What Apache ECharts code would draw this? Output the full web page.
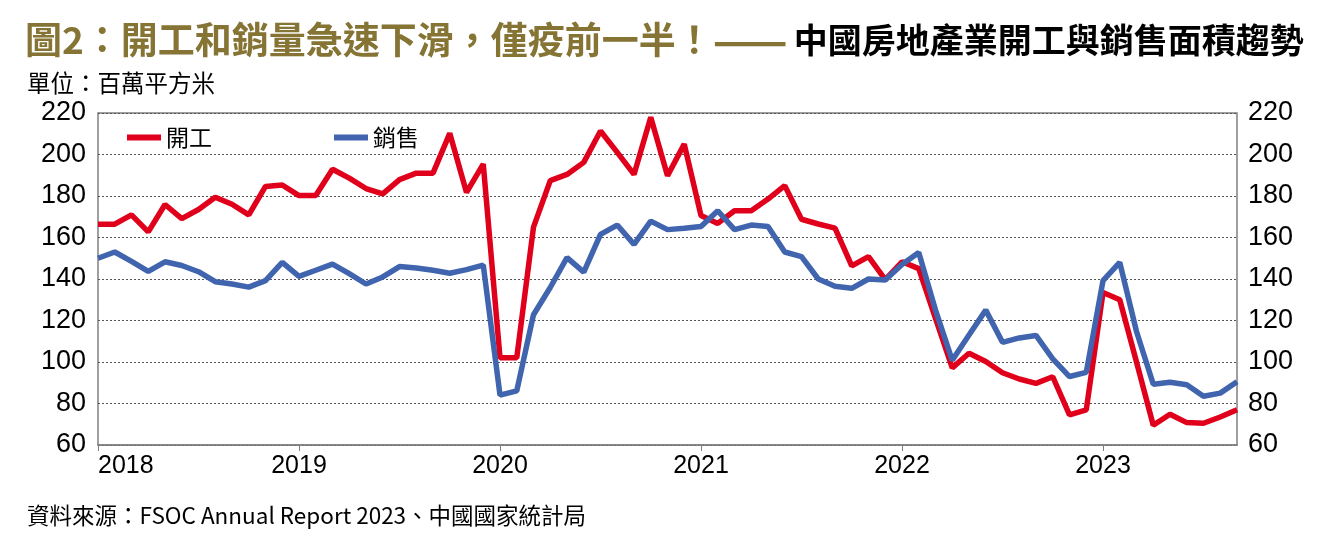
<!DOCTYPE html>
<html>
<head>
<meta charset="utf-8">
<script src="https://cdn.jsdelivr.net/npm/echarts@6/dist/echarts.min.js"></script>
<style>
  html, body { margin: 0; padding: 0; background: #fff; }
  #chart { width: 1321px; height: 533px; }
</style>
</head>
<body>
<div id="chart"></div>
<script>
// 月份：2018-01 ~ 2023-09
var months = [];
for (var y = 2018; y <= 2023; y++) {
  for (var m = 1; m <= 12; m++) {
    if (y === 2023 && m > 9) break;
    months.push(y + '-' + (m < 10 ? '0' + m : m));
  }
}

// 開工面積（百萬平方米）
var starts = [
  166.4, 166.4, 170.9, 162.7, 175.9, 169.1, 173.5, 179.4, 176.0, 170.9, 184.6, 185.3,
  180.2, 180.2, 192.9, 188.6, 183.6, 181.0, 187.9, 191.0, 191.0, 210.2, 181.7, 195.4,
  102.0, 102.0, 165.0, 187.4, 190.4, 196.2, 211.3, 201.0, 190.4, 218.0, 189.8, 205.0,
  170.6, 166.8, 172.9, 172.9, 178.5, 185.0, 168.8, 166.5, 164.5, 146.3, 150.8, 139.7,
  148.3, 145.0, 121.0, 97.2, 104.2, 100.2, 94.8, 91.8, 89.7, 92.9, 74.5, 76.9,
  133.5, 130.0, 100.0, 69.5, 74.8, 70.8, 70.5, 73.5, 77.0
];

// 銷售面積（百萬平方米）
var sales = [
  150.0, 153.0, 148.5, 143.7, 148.3, 146.5, 143.5, 138.7, 137.6, 136.1, 139.2, 148.0,
  141.3, 144.2, 147.2, 142.6, 137.6, 141.0, 146.0, 145.3, 144.2, 142.8, 144.5, 146.7,
  84.0, 86.1, 122.8, 135.9, 150.3, 143.3, 161.5, 166.0, 156.7, 167.9, 163.8, 164.5,
  165.3, 172.9, 163.8, 166.0, 165.3, 153.0, 150.8, 140.0, 136.5, 135.5, 140.0, 139.5,
  147.0, 152.8, 125.0, 100.8, 113.0, 125.0, 109.5, 111.6, 112.8, 101.5, 93.0, 95.0,
  139.2, 148.0, 114.7, 89.3, 90.2, 89.0, 83.5, 85.0, 90.5
];

var chart = echarts.init(document.getElementById('chart'));

// 只在每年一月標年份
var isJan = function (idx, val) {
  return String(val).slice(5) === '01';
};

var option = {
  backgroundColor: '#fff',
  animation: false,
  title: [{
    left: 20,
    top: 13,
    text: '{a|圖2：開工和銷量急速下滑，僅疫前一半！}{b|——}{c|中國房地產業開工與銷售面積趨勢}',
    textStyle: {
      rich: {
        a: { fontFamily: 'Noto Sans CJK TC', fontWeight: 'bold', fontSize: 37, color: '#857434' },
        b: { fontFamily: 'Noto Sans CJK TC', fontSize: 44, color: '#857434' },
        c: { fontFamily: 'Noto Sans CJK TC', fontWeight: 'bold', fontSize: 34, color: '#000', padding: [0, 0, 0, 6] }
      }
    }
  }, {
    left: 22,
    top: 66,
    text: '單位：百萬平方米',
    textStyle: { fontFamily: 'Noto Sans CJK TC', fontWeight: 'normal', fontSize: 23.5, color: '#000' }
  }, {
    left: 22,
    top: 499,
    text: '資料來源：FSOC Annual Report 2023、中國國家統計局',
    textStyle: { fontFamily: 'Noto Sans CJK TC', fontWeight: 'normal', fontSize: 22.5, color: '#000' }
  }],
  legend: {
    left: 122,
    top: 121,
    icon: 'rect',
    itemWidth: 34,
    itemHeight: 6,
    itemGap: 122,
    textStyle: { fontFamily: 'Noto Sans CJK TC', fontSize: 23, color: '#000' },
    data: ['開工', '銷售']
  },
  grid: {
    left: 98,
    right: 84,
    top: 113,
    bottom: 88,
    show: true,
    borderColor: '#808080',
    borderWidth: 1.5
  },
  xAxis: {
    type: 'category',
    data: months,
    boundaryGap: false,
    axisLine: { lineStyle: { color: '#808080', width: 1.5 } },
    axisTick: { interval: isJan, length: 6, lineStyle: { color: '#808080' } },
    axisLabel: {
      interval: isJan,
      formatter: function (v) { return v.slice(0, 4); },
      fontFamily: 'Liberation Sans',
      fontSize: 25,
      color: '#000',
      margin: 9,
      alignMinLabel: 'left'
    },
    splitLine: { show: false }
  },
  yAxis: [{
    type: 'value',
    min: 60,
    max: 220,
    interval: 20,
    axisLine: { show: false },
    axisTick: { show: false },
    axisLabel: { fontFamily: 'Liberation Sans', fontSize: 27, color: '#000', margin: 12 },
    splitLine: { lineStyle: { type: [2, 2], color: '#555', width: 1 } }
  }, {
    type: 'value',
    position: 'right',
    min: 60,
    max: 220,
    interval: 20,
    axisLine: { show: false },
    axisTick: { show: false },
    axisLabel: { fontFamily: 'Liberation Sans', fontSize: 27, color: '#000', margin: 11 },
    splitLine: { show: false }
  }],
  series: [{
    name: '開工',
    type: 'line',
    data: starts,
    symbol: 'none',
    color: '#E0001B',
    lineStyle: { width: 5.5, color: '#E0001B' }
  }, {
    name: '銷售',
    type: 'line',
    data: sales,
    symbol: 'none',
    color: '#4065AE',
    lineStyle: { width: 5.5, color: '#4065AE' }
  }]
};

chart.setOption(option);
</script>
</body>
</html>
